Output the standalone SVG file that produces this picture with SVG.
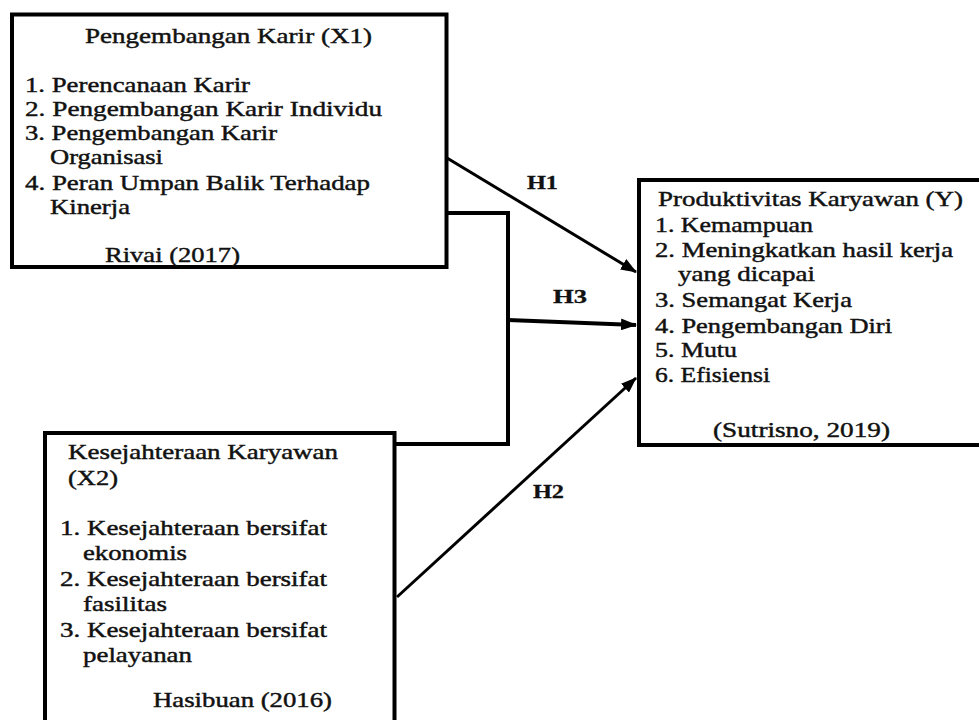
<svg xmlns="http://www.w3.org/2000/svg" width="979" height="720" viewBox="0 0 979 720">
<style>
.box{fill:#fff;stroke:#000;stroke-width:4}
.t{font-family:'Liberation Serif','Times New Roman',Times,serif;font-size:22px;fill:#111;stroke:#111;stroke-width:0.45}
.h{font-family:'Liberation Serif','Times New Roman',Times,serif;font-size:19px;font-weight:bold;fill:#111;stroke:#111;stroke-width:0.3}
.c{fill:none;stroke:#000;stroke-width:3}
.c4{fill:none;stroke:#000;stroke-width:4}
</style>
<defs>
<marker id="arr" markerUnits="userSpaceOnUse" markerWidth="16" markerHeight="12" refX="15" refY="6" orient="auto">
<path d="M0,0 L16,6 L0,12 z" fill="#000"/>
</marker>
</defs>
<rect width="979" height="720" fill="#fff"/>
<g id="connectors">
<path class="c" d="M447,158 L636,272" marker-end="url(#arr)"/>
<path class="c4" d="M447,213 L508,213 L508,444 L395,444"/>
<path class="c4" d="M508,320 L636,325" marker-end="url(#arr)"/>
<path class="c" d="M397,597 L636,378" marker-end="url(#arr)"/>
<text class="h" x="527" y="189" textLength="31" lengthAdjust="spacingAndGlyphs">H1</text>
<text class="h" x="553" y="303" textLength="34" lengthAdjust="spacingAndGlyphs">H3</text>
<text class="h" x="533" y="498" textLength="31" lengthAdjust="spacingAndGlyphs">H2</text>
</g>
<g id="x1">
<rect class="box" x="12" y="14.5" width="434.5" height="252.5"/>
<text class="t" x="85" y="43" textLength="287" lengthAdjust="spacingAndGlyphs">Pengembangan Karir (X1)</text>
<text class="t" x="25" y="92" textLength="225" lengthAdjust="spacingAndGlyphs">1. Perencanaan Karir</text>
<text class="t" x="25" y="116" textLength="357" lengthAdjust="spacingAndGlyphs">2. Pengembangan Karir Individu</text>
<text class="t" x="25" y="140" textLength="252" lengthAdjust="spacingAndGlyphs">3. Pengembangan Karir</text>
<text class="t" x="50" y="164" textLength="113" lengthAdjust="spacingAndGlyphs">Organisasi</text>
<text class="t" x="25" y="190" textLength="345" lengthAdjust="spacingAndGlyphs">4. Peran Umpan Balik Terhadap</text>
<text class="t" x="50" y="214" textLength="80" lengthAdjust="spacingAndGlyphs">Kinerja</text>
<text class="t" x="105" y="262" textLength="135" lengthAdjust="spacingAndGlyphs">Rivai (2017)</text>
</g>
<g id="y">
<rect class="box" x="639" y="180" width="345" height="265"/>
<text class="t" x="658" y="206" textLength="305" lengthAdjust="spacingAndGlyphs">Produktivitas Karyawan (Y)</text>
<text class="t" x="655" y="232" textLength="158" lengthAdjust="spacingAndGlyphs">1. Kemampuan</text>
<text class="t" x="655" y="257" textLength="298" lengthAdjust="spacingAndGlyphs">2. Meningkatkan hasil kerja</text>
<text class="t" x="678" y="281" textLength="137" lengthAdjust="spacingAndGlyphs">yang dicapai</text>
<text class="t" x="655" y="307" textLength="197" lengthAdjust="spacingAndGlyphs">3. Semangat Kerja</text>
<text class="t" x="655" y="333" textLength="237" lengthAdjust="spacingAndGlyphs">4. Pengembangan Diri</text>
<text class="t" x="655" y="357" textLength="82" lengthAdjust="spacingAndGlyphs">5. Mutu</text>
<text class="t" x="655" y="382" textLength="115" lengthAdjust="spacingAndGlyphs">6. Efisiensi</text>
<text class="t" x="713" y="437" textLength="177" lengthAdjust="spacingAndGlyphs">(Sutrisno, 2019)</text>
</g>
<g id="x2">
<rect class="box" x="45" y="433" width="349.5" height="300"/>
<text class="t" x="68" y="459" textLength="270" lengthAdjust="spacingAndGlyphs">Kesejahteraan Karyawan</text>
<text class="t" x="68" y="485" textLength="50" lengthAdjust="spacingAndGlyphs">(X2)</text>
<text class="t" x="60" y="535" textLength="267" lengthAdjust="spacingAndGlyphs">1. Kesejahteraan bersifat</text>
<text class="t" x="83" y="560" textLength="104" lengthAdjust="spacingAndGlyphs">ekonomis</text>
<text class="t" x="60" y="586" textLength="267" lengthAdjust="spacingAndGlyphs">2. Kesejahteraan bersifat</text>
<text class="t" x="83" y="611" textLength="84" lengthAdjust="spacingAndGlyphs">fasilitas</text>
<text class="t" x="60" y="637" textLength="267" lengthAdjust="spacingAndGlyphs">3. Kesejahteraan bersifat</text>
<text class="t" x="83" y="662" textLength="109" lengthAdjust="spacingAndGlyphs">pelayanan</text>
<text class="t" x="153" y="707" textLength="179" lengthAdjust="spacingAndGlyphs">Hasibuan (2016)</text>
</g>
</svg>
